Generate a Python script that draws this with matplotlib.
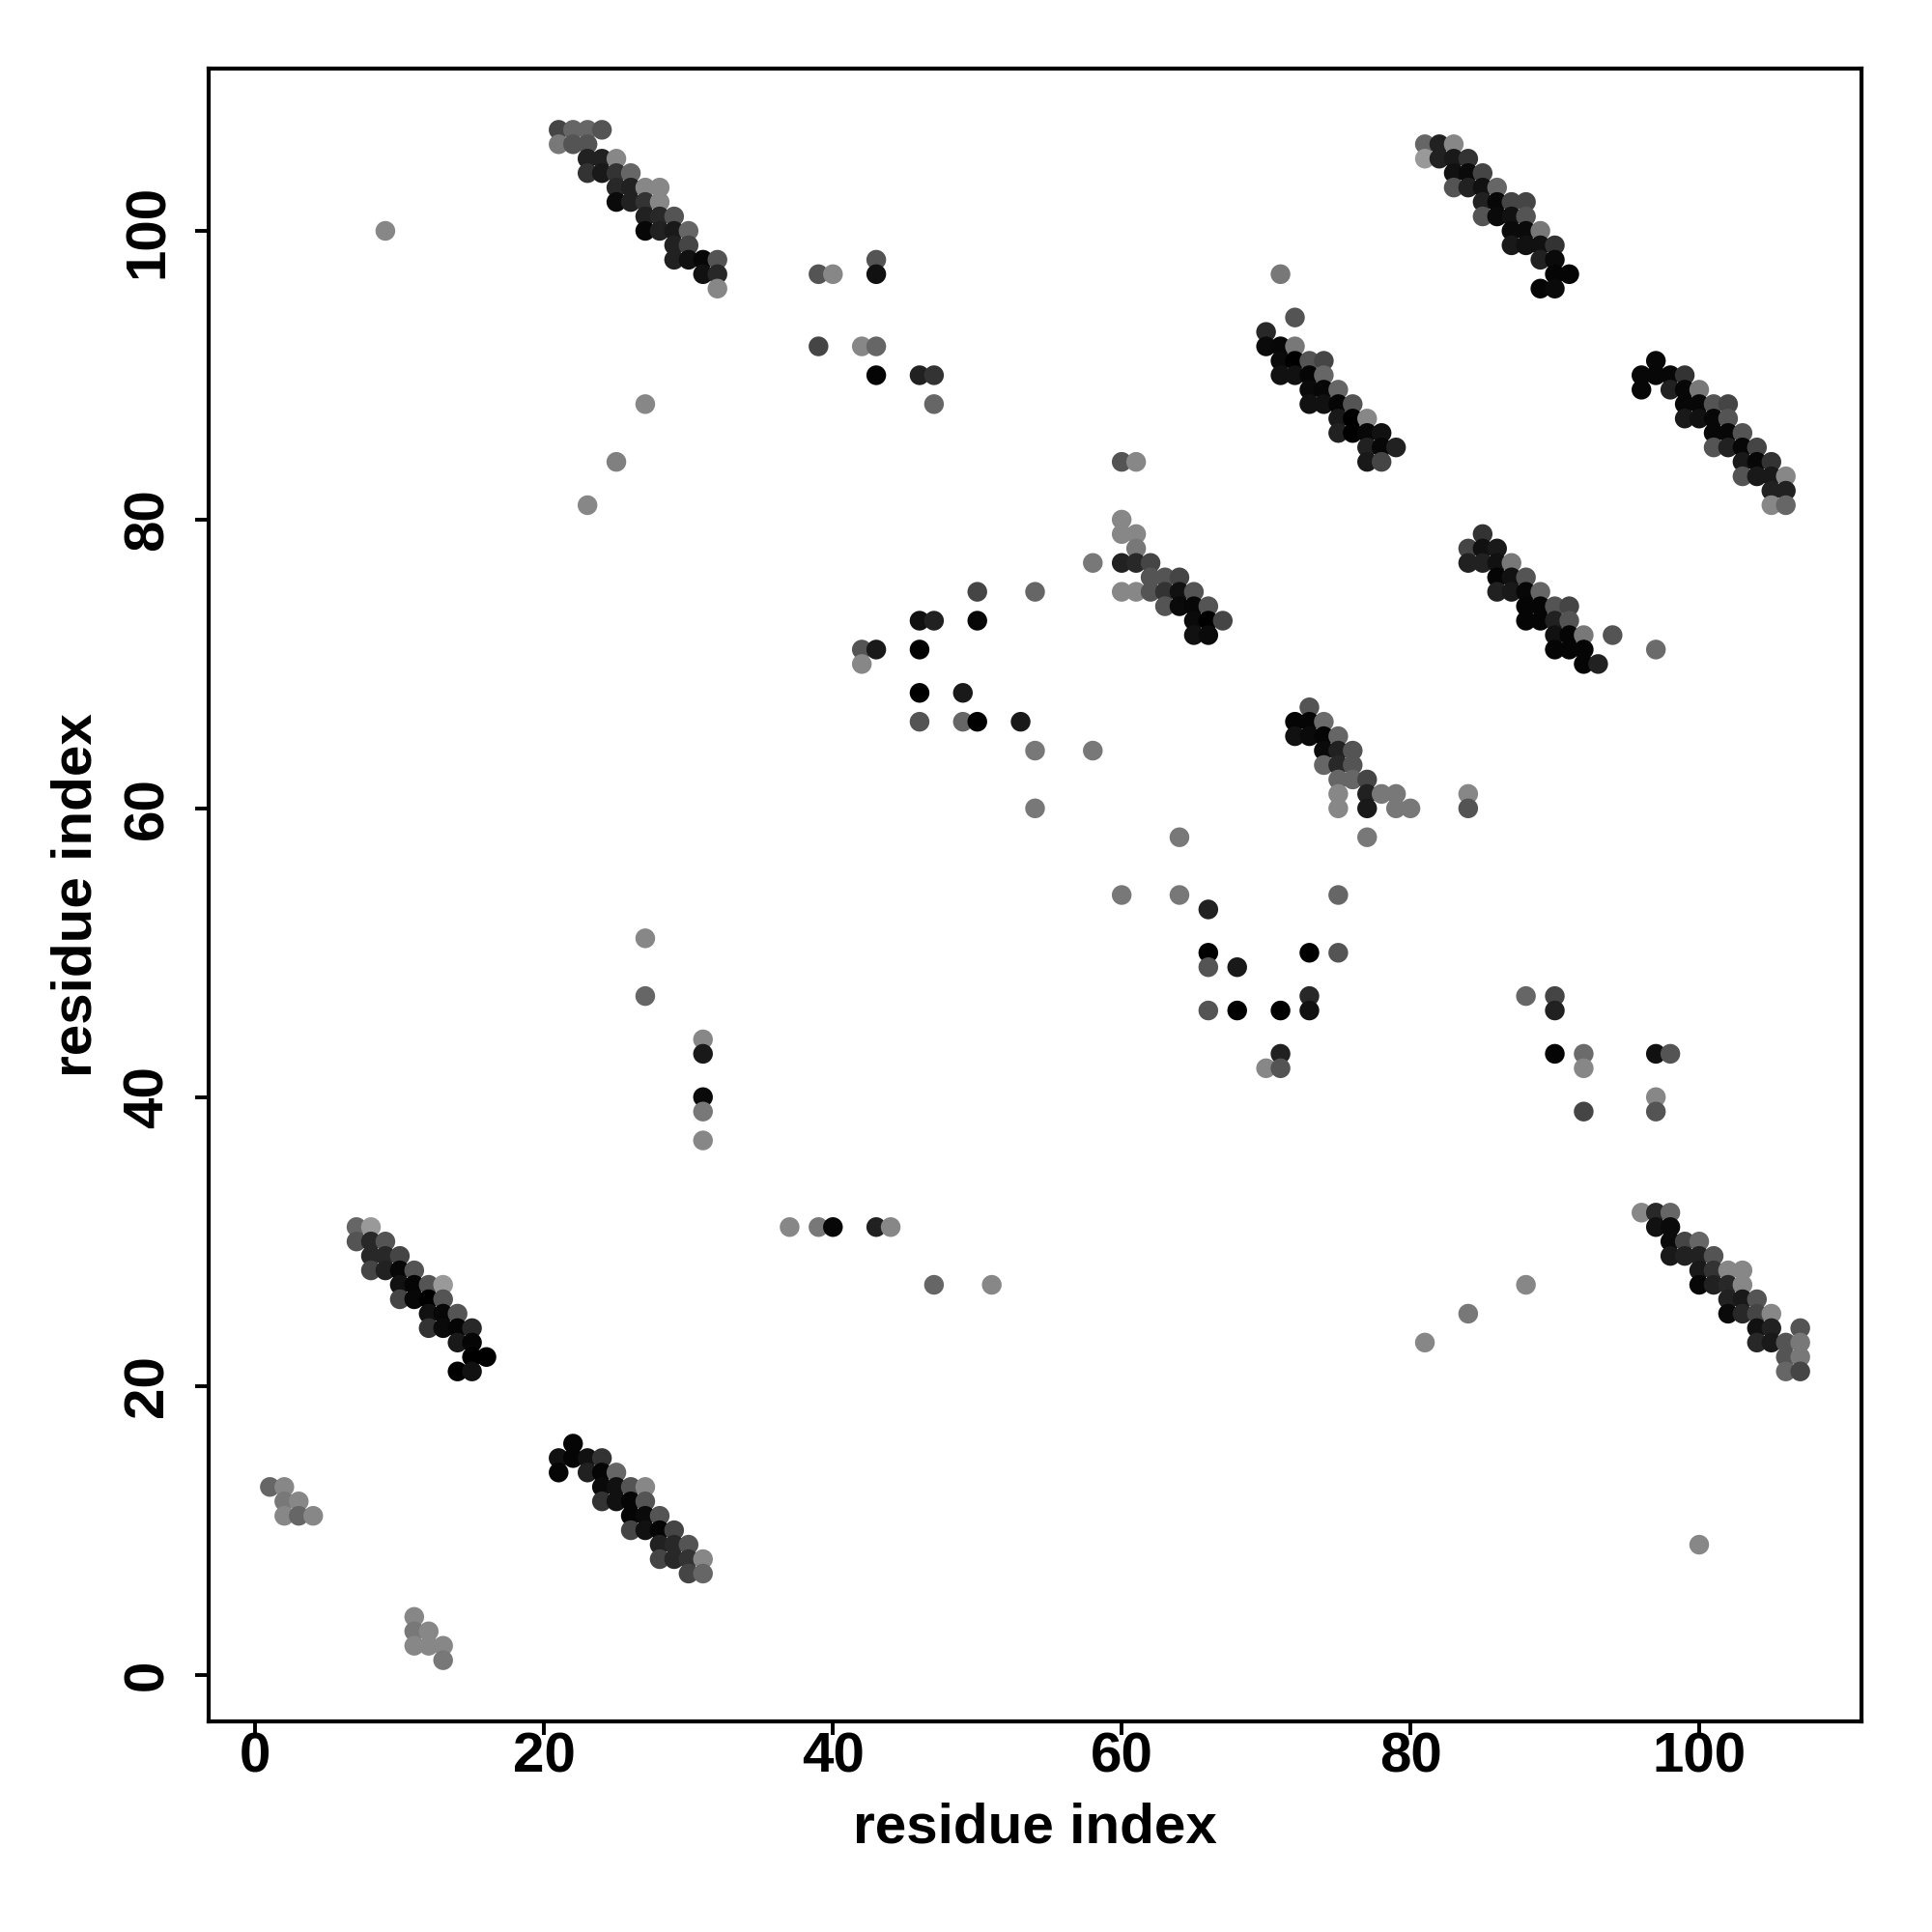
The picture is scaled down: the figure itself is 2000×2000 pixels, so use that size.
import matplotlib
matplotlib.use("Agg")
import matplotlib.pyplot as plt

plt.rcParams['font.family'] = ['Liberation Sans', 'DejaVu Sans']
plt.rcParams['font.weight'] = 'bold'

# contacts as (i, j, grey level) where grey 0 = black, 1 = white
block_top_left = [
    (21, 107, .27), (22, 107, .40), (23, 107, .40), (24, 107, .33),
    (21, 106, .47), (22, 106, .33), (23, 106, .33),
    (23, 105, .13), (24, 105, .13), (25, 105, .53),
    (23, 104, .20), (24, 104, .10), (25, 104, .20), (26, 104, .40),
    (25, 103, .16), (26, 103, .13), (27, 103, .53), (28, 103, .53),
    (25, 102, .04), (26, 102, .13), (27, 102, .20), (28, 102, .53),
    (27, 101, .13), (28, 101, .16), (29, 101, .33),
    (27, 100, .03), (28, 100, .13), (29, 100, .10), (30, 100, .40),
    (29, 99, .13), (30, 99, .27),
    (29, 98, .13), (30, 98, .07), (31, 98, .03), (32, 98, .33),
    (31, 97, .07), (32, 97, .16),
    (32, 96, .53),
]

scatter_mid = [
    (9, 100, .53), (25, 84, .50), (23, 81, .53), (27, 88, .53),
    (39, 97, .33), (40, 97, .53), (43, 98, .33), (43, 97, .07),
    (39, 92, .27), (42, 92, .53), (43, 92, .40),
    (43, 90, .02), (46, 90, .13), (47, 90, .20), (47, 88, .40),
    (50, 75, .27), (54, 75, .40),
    (46, 73, .07), (47, 73, .13), (50, 73, .03),
    (42, 71, .33), (43, 71, .10), (46, 71, .00), (42, 70, .53),
    (46, 68, .00), (49, 68, .10),
    (46, 66, .33), (49, 66, .40), (50, 66, .00), (53, 66, .10),
    (54, 64, .47), (54, 60, .47), (58, 64, .47),
    (27, 51, .53), (27, 47, .40),
    (31, 44, .53), (31, 43, .10), (31, 40, .04), (31, 39, .47), (31, 37, .53),
    (37, 31, .53), (39, 31, .47), (40, 31, .03), (43, 31, .13), (44, 31, .53),
    (47, 27, .40), (51, 27, .53),
]

block_60_75 = [
    (60, 84, .33), (61, 84, .53),
    (60, 80, .53),
    (60, 79, .53), (61, 79, .53),
    (61, 78, .47),
    (58, 77, .47), (60, 77, .13), (61, 77, .16), (62, 77, .27),
    (62, 76, .33), (63, 76, .33), (64, 76, .27),
    (60, 75, .53), (61, 75, .53), (62, 75, .33), (63, 75, .20), (64, 75, .07), (65, 75, .33),
    (63, 74, .33), (64, 74, .04), (65, 74, .03), (66, 74, .33),
    (65, 73, .04), (66, 73, .00), (67, 73, .27),
    (65, 72, .07), (66, 72, .04),
]

block_70_88 = [
    (71, 97, .47), (72, 94, .33), (70, 93, .16),
    (70, 92, .04), (71, 92, .03), (72, 92, .47),
    (71, 91, .04), (72, 91, .00), (73, 91, .33), (74, 91, .27),
    (71, 90, .07), (72, 90, .07), (73, 90, .02), (74, 90, .40),
    (73, 89, .04), (74, 89, .03), (75, 89, .40),
    (73, 88, .07), (74, 88, .07), (75, 88, .02), (76, 88, .33),
    (75, 87, .10), (76, 87, .00), (77, 87, .53),
    (75, 86, .13), (76, 86, .00), (77, 86, .03), (78, 86, .07),
    (77, 85, .13), (78, 85, .03), (79, 85, .13),
    (77, 84, .10), (78, 84, .27),
]

block_top_right = [
    (81, 106, .40), (82, 106, .13), (83, 106, .53),
    (81, 105, .60), (82, 105, .13), (83, 105, .10), (84, 105, .20),
    (83, 104, .07), (84, 104, .04), (85, 104, .27),
    (83, 103, .33), (84, 103, .13), (85, 103, .07), (86, 103, .40),
    (85, 102, .13), (86, 102, .03), (87, 102, .27), (88, 102, .27),
    (85, 101, .33), (86, 101, .04), (87, 101, .07), (88, 101, .33),
    (87, 100, .04), (88, 100, .04), (89, 100, .47),
    (87, 99, .10), (88, 99, .07), (89, 99, .07), (90, 99, .20),
    (89, 98, .13), (90, 98, .04),
    (90, 97, .02), (91, 97, .02),
    (89, 96, .02), (90, 96, .04),
]

block_96_90 = [
    (97, 91, .03), (96, 90, .03), (97, 90, .03), (98, 90, .03), (99, 90, .20),
    (96, 89, .03), (98, 89, .13), (99, 89, .03), (100, 89, .47),
    (99, 88, .03), (100, 88, .03), (101, 88, .33), (102, 88, .27),
    (99, 87, .10), (100, 87, .07), (101, 87, .03), (102, 87, .33),
    (101, 86, .03), (102, 86, .03), (103, 86, .33),
    (101, 85, .33), (102, 85, .13), (103, 85, .03), (104, 85, .27),
    (103, 84, .10), (104, 84, .03), (105, 84, .20),
    (103, 83, .33), (104, 83, .10), (105, 83, .10), (106, 83, .53),
    (105, 82, .13), (106, 82, .13),
    (105, 81, .53), (106, 81, .40),
]

block_84_78 = [
    (85, 79, .20),
    (84, 78, .27), (85, 78, .07), (86, 78, .10),
    (84, 77, .13), (85, 77, .13), (86, 77, .07), (87, 77, .47),
    (86, 76, .02), (87, 76, .07), (88, 76, .33),
    (86, 75, .13), (87, 75, .10), (88, 75, .03), (89, 75, .40),
    (88, 74, .02), (89, 74, .02), (90, 74, .33), (91, 74, .27),
    (88, 73, .02), (89, 73, .02), (90, 73, .13), (91, 73, .33),
    (90, 72, .07), (91, 72, .02), (92, 72, .47), (94, 72, .33),
    (90, 71, .02), (91, 71, .02), (92, 71, .02), (97, 71, .42),
    (92, 70, .02), (93, 70, .13),
]

block_72_66 = [
    (73, 67, .33),
    (72, 66, .02), (73, 66, .02), (74, 66, .42),
    (72, 65, .07), (73, 65, .04), (74, 65, .02), (75, 65, .40),
    (74, 64, .04), (75, 64, .13), (76, 64, .33),
    (74, 63, .40), (75, 63, .16), (76, 63, .33),
    (75, 62, .40), (76, 62, .40), (77, 62, .27),
    (75, 61, .53), (77, 61, .13), (78, 61, .47), (79, 61, .47),
    (75, 60, .53), (77, 60, .10), (79, 60, .47), (80, 60, .47),
    (77, 58, .47), (84, 61, .53), (84, 60, .33),
]

scatter_right = [
    (64, 58, .47), (60, 54, .47), (64, 54, .47), (75, 54, .40),
    (66, 53, .13),
    (66, 50, .00), (73, 50, .00), (75, 50, .33),
    (66, 49, .33), (68, 49, .10),
    (73, 47, .16),
    (66, 46, .33), (68, 46, .00), (71, 46, .00), (73, 46, .07),
    (71, 43, .13), (70, 42, .53), (71, 42, .33),
    (88, 47, .40), (90, 47, .27), (90, 46, .13),
    (90, 43, .02), (92, 43, .42), (92, 42, .53),
    (97, 43, .07), (98, 43, .33),
    (92, 39, .27), (97, 40, .53), (97, 39, .33),
    (84, 25, .47), (81, 23, .53), (88, 27, .53), (100, 9, .53),
]

block_bottom_left = [
    (7, 31, .40), (8, 31, .60),
    (7, 30, .33), (8, 30, .16), (9, 30, .33),
    (8, 29, .16), (9, 29, .16), (10, 29, .27),
    (8, 28, .27), (9, 28, .13), (10, 28, .03), (11, 28, .33),
    (10, 27, .07), (11, 27, .02), (12, 27, .33), (13, 27, .60),
    (10, 26, .27), (11, 26, .03), (12, 26, .00), (13, 26, .33),
    (12, 25, .07), (13, 25, .03), (14, 25, .33),
    (12, 24, .20), (13, 24, .04), (14, 24, .02), (15, 24, .16),
    (14, 23, .10), (15, 23, .02),
    (15, 22, .00), (16, 22, .00),
    (14, 21, .00), (15, 21, .07),
]

small_blocks = [
    (1, 13, .40), (2, 13, .53), (2, 12, .47), (3, 12, .53),
    (2, 11, .53), (3, 11, .40), (4, 11, .53),
    (11, 4, .53), (11, 3, .47), (12, 3, .53),
    (11, 2, .53), (12, 2, .53), (13, 2, .53), (13, 1, .47),
]

block_21_15 = [
    (22, 16, .02),
    (21, 15, .07), (22, 15, .02), (23, 15, .07), (24, 15, .20),
    (21, 14, .02), (23, 14, .13), (24, 14, .02), (25, 14, .40),
    (24, 13, .04), (25, 13, .07), (26, 13, .33), (27, 13, .53),
    (24, 12, .20), (25, 12, .07), (26, 12, .02), (27, 12, .33),
    (26, 11, .02), (27, 11, .04), (28, 11, .33),
    (26, 10, .27), (27, 10, .07), (28, 10, .02), (29, 10, .27),
    (28, 9, .13), (29, 9, .16), (30, 9, .33),
    (28, 8, .27), (29, 8, .16), (30, 8, .20), (31, 8, .53),
    (30, 7, .27), (31, 7, .40),
]

block_bottom_right = [
    (96, 32, .53), (97, 32, .16), (98, 32, .40),
    (97, 31, .07), (98, 31, .04),
    (98, 30, .04), (99, 30, .27), (100, 30, .40),
    (98, 29, .10), (99, 29, .13), (100, 29, .13), (101, 29, .33),
    (100, 28, .10), (101, 28, .20), (102, 28, .53), (103, 28, .53),
    (100, 27, .03), (101, 27, .13), (102, 27, .16), (103, 27, .53),
    (102, 26, .13), (103, 26, .10), (104, 26, .33),
    (102, 25, .04), (103, 25, .16), (104, 25, .27), (105, 25, .53),
    (104, 24, .07), (105, 24, .13), (107, 24, .33),
    (104, 23, .16), (105, 23, .10), (106, 23, .33), (107, 23, .47),
    (106, 22, .33), (107, 22, .47),
    (106, 21, .40), (107, 21, .27),
]

ticks = [0, 20, 40, 60, 80, 100]

contacts = (block_top_left + scatter_mid + block_60_75 + block_70_88 + block_top_right
            + block_96_90 + block_84_78 + block_72_66 + scatter_right
            + block_bottom_left + small_blocks + block_21_15 + block_bottom_right)
xs = [c[0] for c in contacts]
ys = [c[1] for c in contacts]
gs = [c[2] for c in contacts]

fig = plt.figure(figsize=(10, 10), dpi=200)
ax = fig.add_axes([0.108, 0.109, 0.8555, 0.8555])
ax.scatter(xs, ys, c=gs, cmap='gray', vmin=0, vmax=1, s=54, linewidths=0)

ax.set_xlim(-3.24, 111.24)
ax.set_ylim(-3.24, 111.24)
ax.set_xticks(ticks)
ax.set_yticks(ticks)
ax.set_xticklabels([str(t) for t in ticks], va='center')
ax.set_yticklabels([str(t) for t in ticks], rotation=90, va='center', ha='center')
ax.tick_params(axis='both', direction='out', length=5, width=1.4, labelsize=21)
ax.tick_params(axis='x', pad=8.5)
ax.tick_params(axis='y', pad=17.5)
for sp in ax.spines.values():
    sp.set_linewidth(1.5)

ax.set_xlabel('residue index', fontsize=21, fontweight='bold', va='center')
ax.set_ylabel('residue index', fontsize=21, fontweight='bold', va='center')
ax.xaxis.set_label_coords(0.5, -0.0643)
ax.yaxis.set_label_coords(-0.0795, 0.5)

fig.savefig('out.png', dpi=200)
